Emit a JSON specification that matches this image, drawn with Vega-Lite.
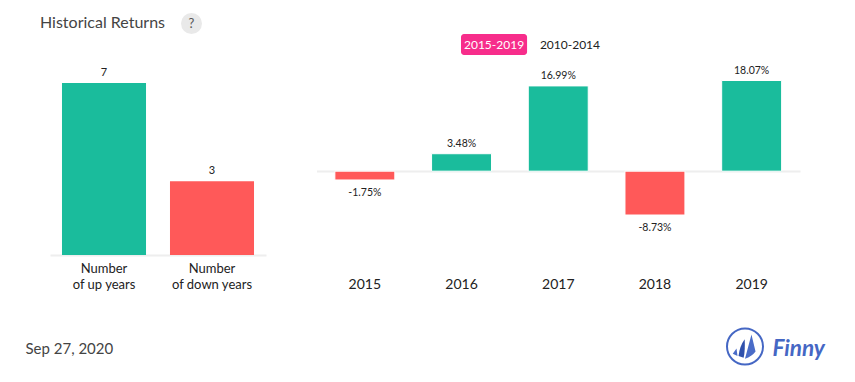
{
"$schema":"https://vega.github.io/schema/vega-lite/v6.json",
"width":855,"height":382,"padding":0,"autosize":"none",
"background":"white",
"config":{"view":{"stroke":null},"font":"Lato"},
"title":{"text":"Historical Returns","anchor":"start","frame":"group","dx":40,"dy":47,"font":"Lato","fontSize":16,"fontWeight":"normal","color":"#444444","baseline":"bottom","offset":0},
"datasets":{
"counts":[{"category":"Number of up years","count":7,"dir":"up"},{"category":"Number of down years","count":3,"dir":"down"}],
"returns":[{"year":"2015","ret":-1.75,"label":"-1.75%","dir":"down"},{"year":"2016","ret":3.48,"label":"3.48%","dir":"up"},{"year":"2017","ret":16.99,"label":"16.99%","dir":"up"},{"year":"2018","ret":-8.73,"label":"-8.73%","dir":"down"},{"year":"2019","ret":18.07,"label":"18.07%","dir":"up"}],
"periods":[{"period":"2015-2019","active":true},{"period":"2010-2014","active":false}],
"help":[{"label":"?"}],
"logo":[{"brand":"Finny"}]
},
"layer":[
{"data":{"name":"counts"},
 "encoding":{
  "x":{"field":"category","type":"nominal","sort":null,"scale":{"type":"band","domain":["Number of up years","Number of down years"],"range":[50,266],"paddingInner":0.222,"paddingOuter":0.111},
   "axis":{"orient":"bottom","offset":-127,"title":"Sep 27, 2020","titleFont":"Lato","titleFontSize":15,"titleFontWeight":"normal","titleColor":"#444444","titleX":25,"titleY":98,"titleAlign":"left","titleBaseline":"alphabetic","domainColor":"#eeeeee","domainWidth":2,"ticks":false,"labelFont":"Lato","labelFontSize":13,"labelColor":"#222222","labelPadding":7,"labelAngle":0,"labelLimit":300,"labelLineHeight":16,"labelOverlap":false,"labelExpr":"['Number', slice(datum.label,7)]"}},
  "y":{"field":"count","type":"quantitative","scale":{"domain":[0,7],"range":[255,83],"nice":false,"zero":false},"axis":null}
 },
 "layer":[
  {"mark":{"type":"bar"},"encoding":{"color":{"field":"dir","type":"nominal","scale":{"domain":["up","down"],"range":["#1abc9c","#ff5959"]},"legend":null}}},
  {"mark":{"type":"text","dy":-10,"font":"Lato","fontSize":11,"color":"#222222","baseline":"middle"},"encoding":{"text":{"field":"count","type":"quantitative"}}}
 ]},
{"data":{"name":"returns"},
 "encoding":{
  "x":{"field":"year","type":"nominal","sort":null,"scale":{"type":"band","domain":["2015","2016","2017","2018","2019"],"range":[316.5,800],"paddingInner":0.38,"paddingOuter":0.19},
   "axis":{"orient":"bottom","offset":-211,"title":"Finny","titleFont":"Lato","titleFontSize":22.5,"titleFontWeight":"bold","titleFontStyle":"italic","titleColor":"#4567c4","titleX":772,"titleY":184,"titleAlign":"left","titleBaseline":"alphabetic","domainColor":"#eeeeee","domainWidth":2,"ticks":false,"labelFont":"Lato","labelFontSize":14,"labelColor":"#222222","labelPadding":106,"labelAngle":0,"labelOverlap":false}},
  "y":{"field":"ret","type":"quantitative","scale":{"domain":[-8.73,18.07],"range":[215,80.5],"nice":false,"zero":false},"axis":null}
 },
 "layer":[
  {"mark":{"type":"bar","stroke":"white","strokeWidth":1},"encoding":{"color":{"field":"dir","type":"nominal","scale":{"domain":["up","down"],"range":["#1abc9c","#ff5959"]},"legend":null}}},
  {"transform":[{"filter":"datum.ret>=0"}],"mark":{"type":"text","dy":-10,"font":"Lato","fontSize":10.5,"color":"#222222","baseline":"middle"},"encoding":{"text":{"field":"label","type":"nominal"}}},
  {"transform":[{"filter":"datum.ret<0"}],"mark":{"type":"text","dy":13,"font":"Lato","fontSize":10.5,"color":"#222222","baseline":"middle"},"encoding":{"text":{"field":"label","type":"nominal"}}}
 ]},
{"data":{"name":"periods"},
 "encoding":{
  "x":{"field":"period","type":"nominal","sort":null,"scale":{"type":"band","domain":["2015-2019","2010-2014"],"range":[461,603],"paddingInner":0.13,"paddingOuter":0},"axis":null},
  "y":{"datum":"legend","type":"nominal","scale":{"type":"band","domain":["legend"],"range":[34,55],"paddingInner":0,"paddingOuter":0},"axis":null}
 },
 "layer":[
  {"transform":[{"filter":"datum.active"}],"mark":{"type":"bar","color":"#f72d8b","cornerRadius":3}},
  {"mark":{"type":"text","font":"Lato","fontSize":12,"baseline":"middle"},"encoding":{"color":{"field":"active","type":"nominal","scale":{"domain":[true,false],"range":["#ffffff","#222222"]},"legend":null},"text":{"field":"period","type":"nominal"}}}
 ]},
{"data":{"name":"help"},
 "encoding":{
  "x":{"field":"label","type":"nominal","scale":{"type":"point","domain":["?"],"range":[191.5,191.5]},"axis":null},
  "y":{"field":"label","type":"nominal","scale":{"type":"point","domain":["?"],"range":[23.5,23.5]},"axis":null}
 },
 "layer":[
  {"mark":{"type":"point","shape":"circle","filled":true,"size":441,"color":"#e9e9e9","opacity":1}},
  {"mark":{"type":"text","font":"Lato","fontSize":13,"color":"#555555","baseline":"middle"},"encoding":{"text":{"field":"label","type":"nominal"}}}
 ]},
{"data":{"name":"logo"},
 "encoding":{
  "x":{"field":"brand","type":"nominal","scale":{"type":"point","domain":["Finny"],"range":[745,745]},"axis":null},
  "y":{"field":"brand","type":"nominal","scale":{"type":"point","domain":["Finny"],"range":[346.5,346.5]},"axis":null}
 },
 "layer":[
  {"mark":{"type":"point","shape":"circle","filled":false,"size":1296,"stroke":"#4567c4","strokeWidth":2,"opacity":1}},
  {"mark":{"type":"point","filled":true,"size":1156,"color":"#4a6cc8","opacity":1,"shape":"M-0.72 0.42 L-0.5 0.12 L-0.44 0.56 Z M0.0 0.72 L0.38 -0.7 L0.62 0.3 Q0.4 0.6 0.0 0.72 Z"}},
  {"mark":{"type":"point","filled":true,"size":1156,"color":"#2f50ac","opacity":1,"shape":"M-0.38 0.56 Q-0.32 0 -0.02 -0.42 Q0.02 0.2 -0.08 0.66 Z"}}
 ]}
],
"resolve":{"scale":{"x":"independent","y":"independent","color":"independent"},"axis":{"x":"independent","y":"independent"}}
}
